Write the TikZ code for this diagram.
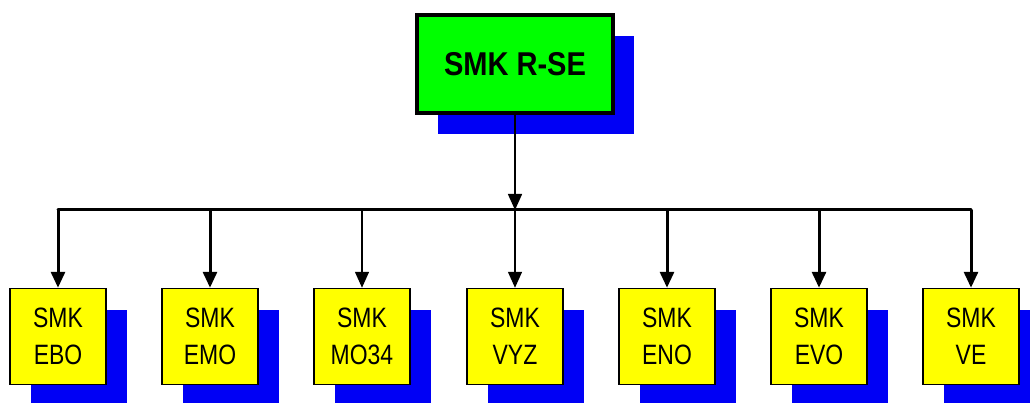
\documentclass[tikz,border=0pt]{standalone}
\usepackage{fontspec}
\setmainfont{Liberation Sans}
\usetikzlibrary{arrows.meta,shadows}
\definecolor{boxgreen}{RGB}{0,255,0}
\definecolor{boxyellow}{RGB}{255,255,0}
\definecolor{shadowblue}{RGB}{0,0,245}
\newcommand{\nar}[1]{\scalebox{0.82}[1]{#1}}
\begin{document}
\begin{tikzpicture}[x=1pt,y=-1pt,
  bshadow/.style={drop shadow={shadow xshift=21pt,shadow yshift=-21pt,fill=shadowblue,opacity=1,shadow scale=1}},
  topbox/.style={draw=black,line width=4pt,fill=boxgreen,minimum width=196pt,minimum height=98pt,inner sep=0pt,bshadow,
    font=\fontsize{33}{33}\selectfont\bfseries},
  unitbox/.style={draw=black,line width=1.5pt,fill=boxyellow,minimum width=96pt,minimum height=96pt,inner sep=0pt,bshadow,
    align=center,font=\fontsize{28}{37}\selectfont},
  thickarr/.style={line width=3pt,-{Triangle[width=14pt,length=16pt]}},
  thinarr/.style={line width=1.5pt,-{Triangle[width=14pt,length=16pt]}},
  barline/.style={line width=3pt,line cap=round}]
\useasboundingbox (0,0) rectangle (1030,403);
\clip (0,0) rectangle (1030,403);
\fill[white] (0,0) rectangle (1030,403);
\node[topbox] (top) at (515,64) {\scalebox{0.88}[1]{SMK R-SE}};
\coordinate (bar) at (515,210);
\node[unitbox] (b1) at (58,336.5)  {\nar{SMK}\\\nar{EBO}};
\node[unitbox] (b2) at (210,336.5) {\nar{SMK}\\\nar{EMO}};
\node[unitbox] (b3) at (362,336.5) {\nar{SMK}\\\nar{MO34}};
\node[unitbox] (b4) at (515,336.5) {\nar{SMK}\\\nar{VYZ}};
\node[unitbox] (b5) at (667,336.5) {\nar{SMK}\\\nar{ENO}};
\node[unitbox] (b6) at (819,336.5) {\nar{SMK}\\\nar{EVO}};
\node[unitbox] (b7) at (971,336.5) {\nar{SMK}\\\nar{VE}};
\draw[barline] (b1.north |- bar) -- (b7.north |- bar);
\draw[thinarr] (top.south) -- (bar);
\draw[thickarr] (b1.north |- bar) -- (b1.north);
\draw[thickarr] (b2.north |- bar) -- (b2.north);
\draw[thinarr] (b3.north |- bar) -- (b3.north);
\draw[thinarr] (b4.north |- bar) -- (b4.north);
\draw[thickarr] (b5.north |- bar) -- (b5.north);
\draw[thickarr] (b6.north |- bar) -- (b6.north);
\draw[thickarr] (b7.north |- bar) -- (b7.north);
\end{tikzpicture}
\end{document}
